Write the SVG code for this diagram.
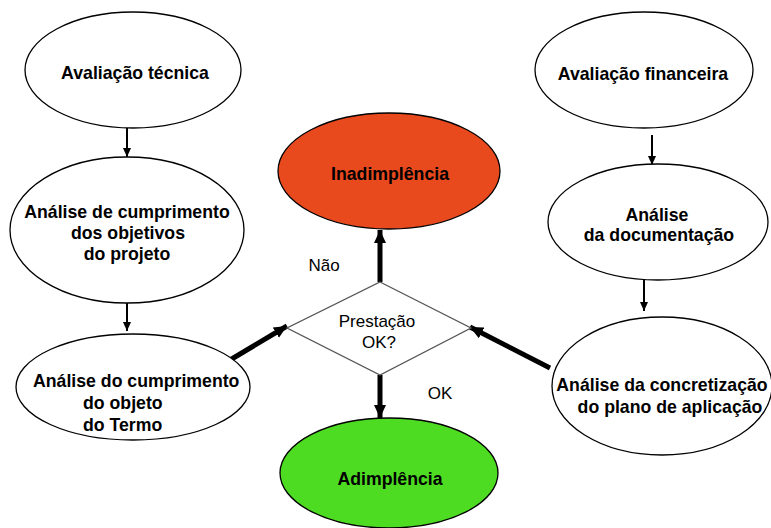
<svg xmlns="http://www.w3.org/2000/svg" width="771" height="528" viewBox="0 0 771 528">
<style>
.n{fill:#fff;stroke:#000;stroke-width:1.3}
.b{font-family:"Liberation Sans",Arial,sans-serif;font-weight:bold;font-size:17.7px;fill:#000}
.r{font-family:"Liberation Sans",Arial,sans-serif;font-size:17px;fill:#000}
.c{text-anchor:middle}
.thin{stroke:#000;stroke-width:2;fill:none}
.thick{stroke:#000;stroke-width:5;fill:none}
</style>
<defs>
<marker id="ah" markerUnits="userSpaceOnUse" markerWidth="10" markerHeight="10" refX="9" refY="5" orient="auto">
<path d="M0,1 L9,5 L0,9 Z" fill="#000"/>
</marker>
<marker id="ahb" markerUnits="userSpaceOnUse" markerWidth="14" markerHeight="14" refX="13" refY="7" orient="auto">
<path d="M0,1 L13,7 L0,13 Z" fill="#000"/>
</marker>
</defs>
<rect width="771" height="528" fill="#fff"/>
<g id="connectors">
<line class="thin" x1="127" y1="128" x2="127" y2="157" marker-end="url(#ah)"/>
<line class="thin" x1="127" y1="302" x2="127" y2="331" marker-end="url(#ah)"/>
<line class="thin" x1="652" y1="135" x2="652" y2="165" marker-end="url(#ah)"/>
<line class="thin" x1="644" y1="280" x2="644" y2="311" marker-end="url(#ah)"/>
<line class="thick" x1="380" y1="282" x2="380" y2="230" marker-end="url(#ahb)"/>
<line class="thick" x1="380" y1="375" x2="380" y2="418" marker-end="url(#ahb)"/>
<line class="thick" x1="230" y1="360" x2="287" y2="326" marker-end="url(#ahb)"/>
<line class="thick" x1="550" y1="368" x2="470" y2="327" marker-end="url(#ahb)"/>
</g>
<g id="n-aval-tecnica">
<ellipse class="n" cx="133" cy="70" rx="108" ry="58"/>
<text class="b c" x="135" y="79">Avaliação técnica</text>
</g>
<g id="n-objetivos">
<ellipse class="n" cx="127" cy="230" rx="117" ry="73"/>
<text class="b c" x="127" y="218">Análise de cumprimento</text>
<text class="b c" x="128" y="239">dos objetivos</text>
<text class="b c" x="127" y="260">do projeto</text>
</g>
<g id="n-objeto">
<ellipse class="n" cx="133" cy="387" rx="117" ry="53"/>
<text class="b" x="33" y="387">Análise do cumprimento</text>
<text class="b" x="83" y="409">do objeto</text>
<text class="b" x="83" y="431">do Termo</text>
</g>
<g id="n-inadimplencia">
<ellipse cx="389" cy="171" rx="111" ry="58" fill="#E8491D" stroke="#000" stroke-width="1.3"/>
<text class="b c" x="390" y="180">Inadimplência</text>
</g>
<g id="n-decisao">
<polygon points="380,282 471,328 380,375 287,328" fill="#fff" stroke="#555" stroke-width="1.3"/>
<text class="r c" x="377" y="327">Prestação</text>
<text class="r c" x="379" y="348">OK?</text>
</g>
<g id="n-adimplencia">
<ellipse cx="389" cy="473" rx="109" ry="55" fill="#4EDC22" stroke="#000" stroke-width="1.3"/>
<text class="b c" x="390" y="485">Adimplência</text>
</g>
<g id="n-aval-financeira">
<ellipse class="n" cx="644" cy="70" rx="109" ry="58"/>
<text class="b c" x="643" y="80">Avaliação financeira</text>
</g>
<g id="n-documentacao">
<ellipse class="n" cx="658" cy="222" rx="110" ry="58"/>
<text class="b c" x="657" y="221">Análise</text>
<text class="b c" x="659" y="241">da documentação</text>
</g>
<g id="n-plano">
<ellipse class="n" cx="662" cy="386" rx="110" ry="69"/>
<text class="b c" x="662" y="391">Análise da concretização</text>
<text class="b c" x="670" y="413">do plano de aplicação</text>
</g>
<g id="labels">
<text class="r c" x="324" y="271">Não</text>
<text class="r c" x="440" y="399">OK</text>
</g>
</svg>
